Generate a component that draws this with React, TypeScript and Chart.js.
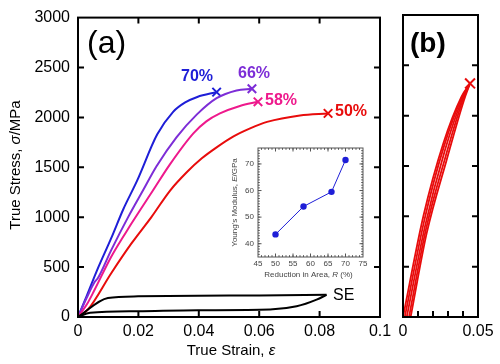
import { useEffect, useRef } from "react";
import { Chart, registerables } from "chart.js";

Chart.register(...registerables);

const FONT = "'Liberation Sans', Arial, Helvetica, sans-serif";

// ---- Panel (a) data: true strain / true stress (MPa)
const blueStrain = [0, 0.003, 0.0063, 0.011, 0.015, 0.0195, 0.0262, 0.0315, 0.0355, 0.0395, 0.0459];
const blueStress = [0, 220, 467, 790, 1080, 1361, 1828, 2056, 2150, 2205, 2253];
const purpleStrain = [0, 0.003, 0.0055, 0.0066, 0.011, 0.0166, 0.0215, 0.026, 0.0326, 0.0393, 0.0459, 0.0525, 0.0576];
const purpleStress = [0, 200, 350, 390, 670, 1001, 1267, 1510, 1800, 2028, 2193, 2270, 2287];
const pinkStrain = [0, 0.003, 0.0055, 0.011, 0.0177, 0.0248, 0.0305, 0.0382, 0.0425, 0.047, 0.0536, 0.0596];
const pinkStress = [0, 130, 273, 604, 936, 1267, 1532, 1840, 1960, 2040, 2115, 2156];
const redStrain = [0, 0.0033, 0.011, 0.0177, 0.0243, 0.0305, 0.036, 0.041, 0.0459, 0.0515, 0.057, 0.0626, 0.0735, 0.0828];
const redStress = [0, 75, 439, 737, 1001, 1267, 1450, 1590, 1700, 1810, 1890, 1955, 2020, 2040];
const seUpperStrain = [0, 0.0099, 0.0199, 0.0397, 0.06, 0.0823];
const seUpperStress = [0, 191, 207, 213, 216, 222];
const seLowerStrain = [0, 0.004, 0.0199, 0.0397, 0.0636, 0.0724, 0.079, 0.0823];
const seLowerStress = [0, 42, 58, 68, 75, 107, 174, 222];

const seriesLabels = ["70%", "66%", "58%", "50%"];

// ---- Panel (b) data: cyclic loading curves
const bStrain1 = [0, 0.0136, 0.0269, 0.039, 0.0447];
const bStress1 = [0, 1003, 1726, 2190, 2320];
const bStrain2 = [0.0012, 0.0142, 0.0272, 0.0392, 0.0447];
const bStress2 = [0, 960, 1690, 2178, 2320];
const bStrain3 = [0.0025, 0.0148, 0.0278, 0.0396, 0.0447];
const bStress3 = [0, 910, 1650, 2168, 2320];
const bStrain4 = [0.004, 0.0153, 0.0285, 0.04, 0.0447];
const bStress4 = [0, 870, 1600, 2160, 2320];
const bStrain5 = [0.0051, 0.0158, 0.0291, 0.0407, 0.0447];
const bStress5 = [0, 833, 1560, 2156, 2320];

// ---- Inset data
const reduction = [50, 58, 66, 70];
const modulus = [43.5, 54, 59.5, 71.5];

// ---- Ticks
const stressTicks = [0, 500, 1000, 1500, 2000, 2500, 3000];
const strainTicksA = [0, 0.02, 0.04, 0.06, 0.08, 0.1];
const strainTicksB = [0, 0.05];
const strainMinorB = [0.01, 0.02, 0.03, 0.04];
const insetXTicks = [45, 50, 55, 60, 65, 70, 75];
const insetYTicks = [40, 50, 60, 70];

const BLUE = "rgb(30,30,215)";
const PURPLE = "rgb(125,45,215)";
const PINK = "rgb(238,25,140)";
const RED = "rgb(232,12,12)";

const pts = (xs: number[], ys: number[]) => xs.map((x, i) => ({ x, y: ys[i] }));
const fmt = (v: number) => String(Math.round(v * 1000) / 1000);

function drawMixed(ctx: CanvasRenderingContext2D, parts: [string, string][], x: number, y: number) {
  let total = 0;
  const widths = parts.map(([t, f]) => {
    ctx.font = f;
    const w = ctx.measureText(t).width;
    total += w;
    return w;
  });
  let cx = x - total / 2;
  ctx.textAlign = "left";
  ctx.textBaseline = "middle";
  parts.forEach(([t, f], i) => {
    ctx.font = f;
    ctx.fillText(t, cx, y);
    cx += widths[i];
  });
}

function curve(xs: number[], ys: number[], color: string, cross: number, width = 2) {
  const n = xs.length;
  return {
    data: pts(xs, ys),
    borderColor: color,
    backgroundColor: color,
    borderWidth: width,
    fill: false,
    cubicInterpolationMode: "monotone" as const,
    pointStyle: "crossRot" as const,
    pointRadius: (c: any) => (cross > 0 && c.dataIndex === n - 1 ? cross : 0),
    pointBorderColor: color,
    pointBorderWidth: 2,
  };
}

const baseOpts = {
  animation: false as const,
  responsive: false,
  devicePixelRatio: 1,
  events: [] as any[],
  plugins: { legend: { display: false }, tooltip: { enabled: false } },
};

function frameAndTicks(cfg: {
  lw: number;
  color: string;
  len: number;
  xIn: number[];
  xTop: boolean;
  yIn: number[];
  minorX?: number[];
  minorY?: number[];
  minorLen?: number;
}) {
  return {
    id: "frameTicks",
    afterDraw(chart: any) {
      const { ctx, chartArea } = chart;
      const { left, right, top, bottom } = chartArea;
      const xs = chart.scales.x;
      const ys = chart.scales.y;
      ctx.save();
      ctx.strokeStyle = cfg.color;
      ctx.lineWidth = cfg.lw;
      const tick = (vals: number[], len: number) => {
        ctx.beginPath();
        vals.forEach((v) => {
          const px = xs.getPixelForValue(v);
          ctx.moveTo(px, bottom);
          ctx.lineTo(px, bottom - len);
          if (cfg.xTop) {
            ctx.moveTo(px, top);
            ctx.lineTo(px, top + len);
          }
        });
        ctx.stroke();
      };
      const tickY = (vals: number[], len: number) => {
        ctx.beginPath();
        vals.forEach((v) => {
          const py = ys.getPixelForValue(v);
          ctx.moveTo(left, py);
          ctx.lineTo(left + len, py);
          ctx.moveTo(right, py);
          ctx.lineTo(right - len, py);
        });
        ctx.stroke();
      };
      tick(cfg.xIn, cfg.len);
      tickY(cfg.yIn, cfg.len);
      if (cfg.minorX) tick(cfg.minorX, cfg.minorLen || 2);
      if (cfg.minorY) tickY(cfg.minorY, cfg.minorLen || 2);
      ctx.strokeRect(left, top, right - left, bottom - top);
      ctx.restore();
    },
  };
}

const textA = {
  id: "textA",
  afterDraw(chart: any) {
    const { ctx, chartArea } = chart;
    ctx.save();
    ctx.fillStyle = "#000";
    ctx.textAlign = "left";
    ctx.textBaseline = "middle";
    ctx.font = `32px ${FONT}`;
    ctx.fillText("(a)", 87, 44);
    ctx.font = `16px ${FONT}`;
    ctx.fillText("SE", 333, 296);
    ctx.font = `bold 16px ${FONT}`;
    ctx.fillStyle = BLUE;
    ctx.fillText(seriesLabels[0], 181, 77);
    ctx.fillStyle = PURPLE;
    ctx.fillText(seriesLabels[1], 238, 74);
    ctx.fillStyle = PINK;
    ctx.fillText(seriesLabels[2], 265, 101);
    ctx.fillStyle = RED;
    ctx.fillText(seriesLabels[3], 335, 112);
    ctx.fillStyle = "#000";
    const cx = (chartArea.left + chartArea.right) / 2;
    drawMixed(ctx, [["True Strain, ", `15px ${FONT}`], ["ε", `italic 15px ${FONT}`]], cx + 2, 351);
    ctx.translate(16, 165);
    ctx.rotate(-Math.PI / 2);
    drawMixed(ctx, [["True Stress, ", `15px ${FONT}`], ["σ", `italic 15px ${FONT}`], ["/MPa", `15px ${FONT}`]], 0, 0);
    ctx.restore();
  },
};

const textB = {
  id: "textB",
  afterDraw(chart: any) {
    const { ctx } = chart;
    ctx.save();
    ctx.fillStyle = "#000";
    ctx.textAlign = "left";
    ctx.textBaseline = "middle";
    ctx.font = `bold 28px ${FONT}`;
    ctx.fillText("(b)", 410, 44);
    ctx.restore();
  },
};

const textInset = {
  id: "textInset",
  afterDraw(chart: any) {
    const { ctx, chartArea } = chart;
    ctx.save();
    ctx.fillStyle = "#444";
    const cx = (chartArea.left + chartArea.right) / 2;
    drawMixed(ctx, [["Reduction in Area, ", `8px ${FONT}`], ["R", `italic 8px ${FONT}`], [" (%)", `8px ${FONT}`]], cx - 2, 275);
    ctx.translate(235, (chartArea.top + chartArea.bottom) / 2);
    ctx.rotate(-Math.PI / 2);
    drawMixed(ctx, [["Young's Modulus, ", `8px ${FONT}`], ["E", `italic 8px ${FONT}`], ["/GPa", `8px ${FONT}`]], 0, 0);
    ctx.restore();
  },
};

function setTicks(vals: number[]) {
  return (s: any) => {
    s.ticks = vals.map((v) => ({ value: v }));
  };
}

const range = (a: number, b: number, step: number) => {
  const out: number[] = [];
  for (let v = a; v <= b + 1e-9; v += step) out.push(Math.round(v * 1000) / 1000);
  return out;
};

export default function App() {
  const refA = useRef<HTMLCanvasElement>(null);
  const refB = useRef<HTMLCanvasElement>(null);
  const refI = useRef<HTMLCanvasElement>(null);

  useEffect(() => {
    const tickFont = { family: FONT, size: 16 };
    const chartA = new Chart(refA.current!, {
      type: "line",
      data: {
        datasets: [
          curve(seLowerStrain, seLowerStress, "#000", 0),
          curve(seUpperStrain, seUpperStress, "#000", 0),
          curve(redStrain, redStress, RED, 6),
          curve(pinkStrain, pinkStress, PINK, 6),
          curve(purpleStrain, purpleStress, PURPLE, 6),
          curve(blueStrain, blueStress, BLUE, 6),
        ] as any,
      },
      options: {
        ...baseOpts,
        layout: { padding: { left: 0, right: 120, top: 15, bottom: 0 } },
        scales: {
          x: {
            type: "linear",
            min: 0,
            max: 0.1,
            grid: { display: false, drawTicks: false },
            border: { display: false },
            ticks: { font: tickFont, color: "#000", padding: 5, autoSkip: false, maxRotation: 0, callback: (v: any) => fmt(Number(v)) },
            afterBuildTicks: setTicks(strainTicksA),
            afterFit: (s: any) => {
              s.height = 47;
            },
          },
          y: {
            type: "linear",
            min: 0,
            max: 3000,
            grid: { display: false, drawTicks: false },
            border: { display: false },
            ticks: { font: tickFont, color: "#000", padding: 8, autoSkip: false, callback: (v: any) => String(v) },
            afterBuildTicks: setTicks(stressTicks),
            afterFit: (s: any) => {
              s.width = 78;
            },
          },
        },
      } as any,
      plugins: [
        frameAndTicks({ lw: 2, color: "#000", len: 6, xIn: strainTicksA.slice(1, -1), xTop: true, yIn: stressTicks.slice(1, -1) }),
        textA,
      ],
    });

    const chartB = new Chart(refB.current!, {
      type: "line",
      data: {
        datasets: [
          curve(bStrain5, bStress5, RED, 0, 1.8),
          curve(bStrain4, bStress4, RED, 0, 1.8),
          curve(bStrain3, bStress3, RED, 0, 1.8),
          curve(bStrain2, bStress2, RED, 0, 1.8),
          curve(bStrain1, bStress1, RED, 7, 1.8),
        ] as any,
      },
      options: {
        ...baseOpts,
        layout: { padding: { left: 403, right: 22, top: 15, bottom: 0 } },
        scales: {
          x: {
            type: "linear",
            min: 0,
            max: 0.05,
            grid: { display: false, drawTicks: false },
            border: { display: false },
            ticks: { font: tickFont, color: "#000", padding: 5, autoSkip: false, maxRotation: 0, callback: (v: any) => fmt(Number(v)) },
            afterBuildTicks: setTicks(strainTicksB),
            afterFit: (s: any) => {
              s.height = 47;
            },
          },
          y: {
            type: "linear",
            min: 0,
            max: 3000,
            grid: { display: false, drawTicks: false },
            border: { display: false },
            ticks: { display: false },
            afterBuildTicks: setTicks(stressTicks),
            afterFit: (s: any) => {
              s.width = 0;
            },
          },
        },
      } as any,
      plugins: [
        frameAndTicks({ lw: 2, color: "#000", len: 6, xIn: strainMinorB, xTop: false, yIn: stressTicks.slice(1, -1) }),
        textB,
      ],
    });

    const insetFont = { family: FONT, size: 8 };
    const chartI = new Chart(refI.current!, {
      type: "line",
      data: {
        datasets: [
          {
            data: pts(reduction, modulus),
            borderColor: BLUE,
            backgroundColor: BLUE,
            borderWidth: 1,
            pointRadius: 3.2,
            pointBorderWidth: 0,
            pointBackgroundColor: BLUE,
            tension: 0,
          },
        ] as any,
      },
      options: {
        ...baseOpts,
        layout: { padding: { left: 238, right: 137, top: 148, bottom: 0 } },
        scales: {
          x: {
            type: "linear",
            min: 45,
            max: 75,
            grid: { display: false, drawTicks: false },
            border: { display: false },
            ticks: { font: insetFont, color: "#444", padding: 2, autoSkip: false, maxRotation: 0 },
            afterBuildTicks: setTicks(insetXTicks),
            afterFit: (s: any) => {
              s.height = 107;
            },
          },
          y: {
            type: "linear",
            min: 35,
            max: 76,
            grid: { display: false, drawTicks: false },
            border: { display: false },
            ticks: { font: insetFont, color: "#444", padding: 4, autoSkip: false },
            afterBuildTicks: setTicks(insetYTicks),
            afterFit: (s: any) => {
              s.width = 20;
            },
          },
        },
      } as any,
      plugins: [
        frameAndTicks({
          lw: 1,
          color: "#555",
          len: 3.5,
          xIn: insetXTicks.slice(1, -1),
          xTop: true,
          yIn: insetYTicks,
          minorX: range(46, 74, 1),
          minorY: range(36, 75, 1),
          minorLen: 1.8,
        }),
        textInset,
      ],
    });

    return () => {
      chartA.destroy();
      chartB.destroy();
      chartI.destroy();
    };
  }, []);

  const cs: React.CSSProperties = { position: "absolute", left: 0, top: 0, width: 500, height: 364 };
  return (
    <div style={{ position: "fixed", left: 0, top: 0, width: 500, height: 364, background: "#fff" }}>
      <canvas ref={refA} width={500} height={364} style={cs} />
      <canvas ref={refB} width={500} height={364} style={cs} />
      <canvas ref={refI} width={500} height={364} style={cs} />
    </div>
  );
}
